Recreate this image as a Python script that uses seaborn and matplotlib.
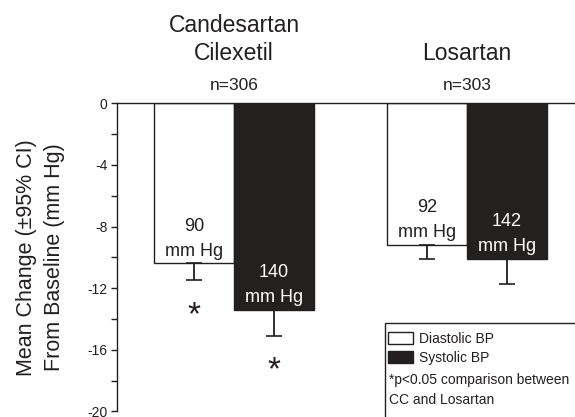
import pandas as pd
import matplotlib.pyplot as plt
import seaborn as sns
from matplotlib.patches import Patch, Rectangle

# ---------------- data ----------------
drugs = ["Candesartan\nCilexetil", "Losartan"]
n_patients = ["n=306", "n=303"]
bp_types = ["Diastolic BP", "Systolic BP"]

# mean change from baseline (mm Hg), order = drugs
diastolic_change = [-10.4, -9.2]
systolic_change = [-13.4, -10.1]
# lower end of 95% CI
diastolic_ci_low = [-11.5, -10.1]
systolic_ci_low = [-15.1, -11.75]
# baseline BP printed inside the bars
diastolic_baseline = [90, 92]
systolic_baseline = [140, 142]
# significant vs losartan
diastolic_sig = [True, False]
systolic_sig = [True, False]

ink = "#231f20"

df = pd.DataFrame({
    "Drug": drugs * 2,
    "BP": [bp_types[0]] * 2 + [bp_types[1]] * 2,
    "Change": diastolic_change + systolic_change,
    "CI_low": diastolic_ci_low + systolic_ci_low,
    "Baseline": diastolic_baseline + systolic_baseline,
    "Sig": diastolic_sig + systolic_sig,
})

sns.set_style("white")
plt.rcParams["font.family"] = ["Liberation Sans", "DejaVu Sans"]
plt.rcParams["text.color"] = ink

fig = plt.figure(figsize=(5.75, 4.17), dpi=100)
ax = fig.add_axes([117 / 575, 1 - 411.3 / 417, 1 - 117 / 575, 308 / 417])

palette = {bp_types[0]: "white", bp_types[1]: ink}
sns.barplot(data=df, x="Drug", y="Change", hue="BP", hue_order=bp_types,
            order=drugs, palette=palette, edgecolor=ink, linewidth=1,
            width=0.69, errorbar=None, legend=False, ax=ax)

# error bars (lower side only), labels in bars, stars
for cont, bp in zip(ax.containers, bp_types):
    sub = df[df["BP"] == bp].set_index("Drug").loc[drugs]
    txt_col = ink if bp == bp_types[0] else "white"
    for bar, (_, row) in zip(cont, sub.iterrows()):
        xc = bar.get_x() + bar.get_width() / 2
        ax.errorbar(xc, row["Change"], yerr=[[row["Change"] - row["CI_low"]], [0]],
                    fmt="none", ecolor=ink, elinewidth=1.3, capsize=5.5, capthick=1.2)
        ax.text(xc, row["Change"] + 0.25, f"{row['Baseline']}\nmm Hg",
                ha="center", va="bottom", fontsize=13, color=txt_col, linespacing=1.6)
        if row["Sig"]:
            ax.text(xc, row["CI_low"] - 2.3, "*", ha="center", va="center",
                    fontsize=24, color=ink)

# group titles above the axis
tr = ax.get_xaxis_transform()
for i, (name, n) in enumerate(zip(drugs, n_patients)):
    for j, line in enumerate(reversed(name.split("\n"))):
        ax.text(i, 1.1406 + j * 0.0914, line, transform=tr, ha="center",
                va="baseline", fontsize=16.5, clip_on=False)
    ax.text(i, 1.0432, n, transform=tr, ha="center", va="baseline",
            fontsize=12.5, clip_on=False)

ax.set_xlim(-0.502, 1.464)
ax.set_ylim(-20, 0)
ax.set_yticks([0, -4, -8, -12, -16, -20])
ax.set_yticks([-2, -6, -10, -14, -18], minor=True)
ax.set_yticklabels(["0", "-4", "-8", "-12", "-16", "-20"], fontsize=10, color=ink)
ax.tick_params(axis="y", which="both", direction="out", left=True, length=4,
               width=1, color=ink, pad=3)
ax.set_xticks([])
ax.set_xlabel("")
ax.set_ylabel("Mean Change (\u00b195% CI)\nFrom Baseline (mm Hg)", fontsize=15.5,
              color=ink, linespacing=1.45)
ax.yaxis.set_label_coords(-0.113, 0.5)

for side in ["bottom", "right"]:
    ax.spines[side].set_visible(False)
for side in ["left", "top"]:
    ax.spines[side].set_color(ink)
    ax.spines[side].set_linewidth(1)

# legend box
fig.patches.append(Rectangle((385 / 575, -0.01), 1, 1 - 323 / 417 + 0.01,
                             transform=fig.transFigure, facecolor="white",
                             edgecolor=ink, linewidth=1, zorder=5))
handles = [Patch(facecolor="white", edgecolor=ink, linewidth=1),
           Patch(facecolor=ink, edgecolor=ink, linewidth=1)]
leg = fig.legend(handles, bp_types, loc="upper left",
                 bbox_to_anchor=(388 / 575, 1 - 332 / 417), frameon=False,
                 fontsize=10, handlelength=1.8, handleheight=0.9,
                 handletextpad=0.45, labelspacing=0.35, borderpad=0,
                 borderaxespad=0)
leg.set_zorder(6)
fig.text(389 / 575, 1 - 380 / 417, "*p<0.05 comparison between", fontsize=10,
         va="center", ha="left", zorder=7)
fig.text(389 / 575, 1 - 400 / 417, "CC and Losartan", fontsize=10,
         va="center", ha="left", zorder=7)

fig.savefig("out.png", dpi=100)
